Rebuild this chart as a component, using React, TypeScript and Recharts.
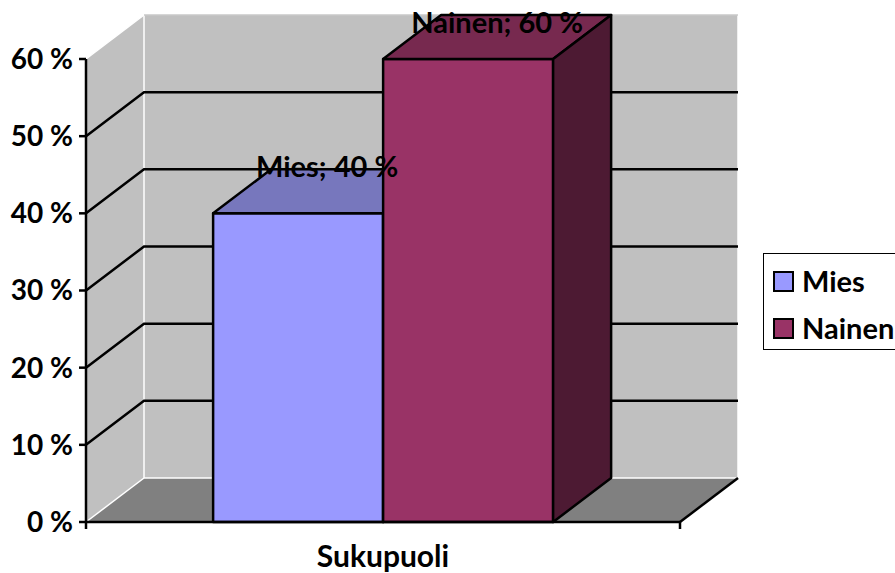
import { ComposedChart, Bar, XAxis, YAxis, ReferenceArea, ReferenceLine, LabelList, Legend } from "recharts"

const categories = ["Sukupuoli"]
const seriesNames = ["Mies", "Nainen"]
const miesValues = [0.4]
const nainenValues = [0.6]
const yTicks = [0, 0.1, 0.2, 0.3, 0.4, 0.5, 0.6]

const frontColors = ["#9999FF", "#993366"]
const topColors = ["#7777BD", "#77294F"]
const sideColors = ["#4D1A33", "#4D1A33"]

const data = categories.map((name, i) => ({ name, Mies: miesValues[i], Nainen: nainenValues[i] }))

// depth of the 3D box, in px
const DX = 58
const DY = -44
const FONT = "Lato, 'Open Sans', sans-serif"

const pct = (v: number) => `${Math.round(v * 100)} %`

function Walls(props: any) {
  const { x, y, width, height } = props
  const x0 = x
  const x1 = x + width
  const yTop = y
  const yBot = y + height
  return (
    <g>
      <polygon points={`${x0},${yBot} ${x0 + DX},${yBot + DY} ${x0 + DX},${yTop + DY} ${x0},${yTop}`} fill="#C0C0C0" />
      <rect x={x0 + DX} y={yTop + DY} width={width} height={height} fill="#C0C0C0" />
      <polygon points={`${x0},${yBot} ${x1},${yBot} ${x1 + DX},${yBot + DY} ${x0 + DX},${yBot + DY}`} fill="#808080" />
      <g stroke="#FFFFFF" strokeWidth={1.5} fill="none">
        <line x1={x0} y1={yTop} x2={x0 + DX} y2={yTop + DY} />
        <line x1={x0 + DX} y1={yTop + DY} x2={x0 + DX} y2={yBot + DY} />
        <line x1={x0} y1={yBot} x2={x0 + DX} y2={yBot + DY} />
        <line x1={x0 + DX} y1={yBot + DY} x2={x1 + DX} y2={yBot + DY} />
        <line x1={x1 + DX} y1={yTop + DY} x2={x1 + DX} y2={yBot + DY} />
      </g>
      <line x1={x0 + DX} y1={yTop + DY} x2={x1 + DX} y2={yTop + DY} stroke="#C8C8C8" strokeWidth={1.5} />
      <line x1={x1} y1={yBot} x2={x1 + DX} y2={yBot + DY} stroke="#000" strokeWidth={2.5} />
      <line x1={x0} y1={yBot} x2={x0} y2={yBot + 7} stroke="#000" strokeWidth={2.5} />
      <line x1={x1} y1={yBot} x2={x1} y2={yBot + 7} stroke="#000" strokeWidth={2.5} />
    </g>
  )
}

function GridLine(props: any) {
  const { x1, y1, x2 } = props
  return (
    <path
      d={`M${x1},${y1} L${x1 + DX},${y1 + DY} L${x2 + DX},${y1 + DY}`}
      stroke="#000"
      strokeWidth={2.5}
      fill="none"
    />
  )
}

function makeBox(index: number) {
  return (props: any) => {
    const { x, y, width, height } = props
    if (!height) return <g />
    return (
      <g stroke="#000" strokeWidth={2.5} strokeLinejoin="round">
        <rect x={x} y={y} width={width} height={height} fill={frontColors[index]} />
        <polygon points={`${x},${y} ${x + DX},${y + DY} ${x + width + DX},${y + DY} ${x + width},${y}`} fill={topColors[index]} />
        <polygon
          points={`${x + width},${y} ${x + width + DX},${y + DY} ${x + width + DX},${y + height + DY} ${x + width},${y + height}`}
          fill={sideColors[index]}
        />
      </g>
    )
  }
}

function makeLabel(name: string) {
  return (props: any) => {
    const { x, y, width, value } = props
    // keep the label inside the top of the chart
    const baseline = Math.max(y + DY + 8, 33)
    return (
      <text x={x + width / 2 + DX / 2} y={baseline} textAnchor="middle" fontFamily={FONT} fontWeight={700} fontSize={29} fill="#000">
        {`${name}; ${pct(value)}`}
      </text>
    )
  }
}

function LegendBox(props: any) {
  const { payload = [] } = props
  return (
    <div
      style={{
        border: "1.5px solid #000",
        background: "#fff",
        width: 170,
        height: 97,
        boxSizing: "border-box",
        padding: "15px 0 0 9px",
        fontFamily: FONT,
        fontWeight: 700,
        fontSize: 29,
        color: "#000",
        whiteSpace: "nowrap",
      }}
    >
      {payload.map((item: any, i: number) => (
        <div key={item.value} style={{ display: "flex", alignItems: "center", height: 24, marginBottom: i === 0 ? 23 : 0 }}>
          <span
            style={{
              display: "inline-block",
              flex: "none",
              width: 21,
              height: 21,
              boxSizing: "border-box",
              border: "2px solid #000",
              background: frontColors[i],
              marginRight: 8,
            }}
          />
          <span style={{ lineHeight: "24px" }}>{item.value}</span>
        </div>
      ))}
    </div>
  )
}

export default function App() {
  return (
    <div style={{ position: "absolute", left: 0, top: 0, width: 895, height: 573, overflow: "hidden", background: "#fff" }}>
      <ComposedChart
        width={895}
        height={573}
        data={data}
        margin={{ top: 59, right: 215, bottom: 0, left: 6 }}
        barCategoryGap="21.4%"
        barGap={0}
      >
        <ReferenceArea y1={0} y2={0.6} shape={Walls} fill="none" stroke="none" zIndex={-80} />
        {yTicks.slice(1, -1).map((v) => (
          <ReferenceLine key={v} y={v} shape={GridLine} zIndex={-70} />
        ))}
        <XAxis
          dataKey="name"
          height={51}
          tickLine={false}
          tickSize={0}
          tickMargin={24}
          axisLine={{ stroke: "#000", strokeWidth: 2.5 }}
          tick={{ fill: "#000", fontFamily: FONT, fontWeight: 700, fontSize: 30 }}
        />
        <YAxis
          width={80}
          domain={[0, 0.6]}
          ticks={yTicks}
          tickFormatter={pct}
          tickSize={7}
          tickMargin={6}
          axisLine={{ stroke: "#000", strokeWidth: 2.5 }}
          tickLine={{ stroke: "#000", strokeWidth: 2.5 }}
          tick={{ fill: "#000", fontFamily: FONT, fontWeight: 700, fontSize: 28 }}
        />
        <Legend
          layout="vertical"
          align="center"
          verticalAlign="middle"
          content={LegendBox}
          wrapperStyle={{ position: "absolute", left: 763, top: 253, width: 170 }}
        />
        {seriesNames.map((name, i) => (
          <Bar key={name} dataKey={name} name={name} fill={frontColors[i]} shape={makeBox(i)} isAnimationActive={false}>
            <LabelList dataKey={name} content={makeLabel(name)} />
          </Bar>
        ))}
      </ComposedChart>
    </div>
  )
}
